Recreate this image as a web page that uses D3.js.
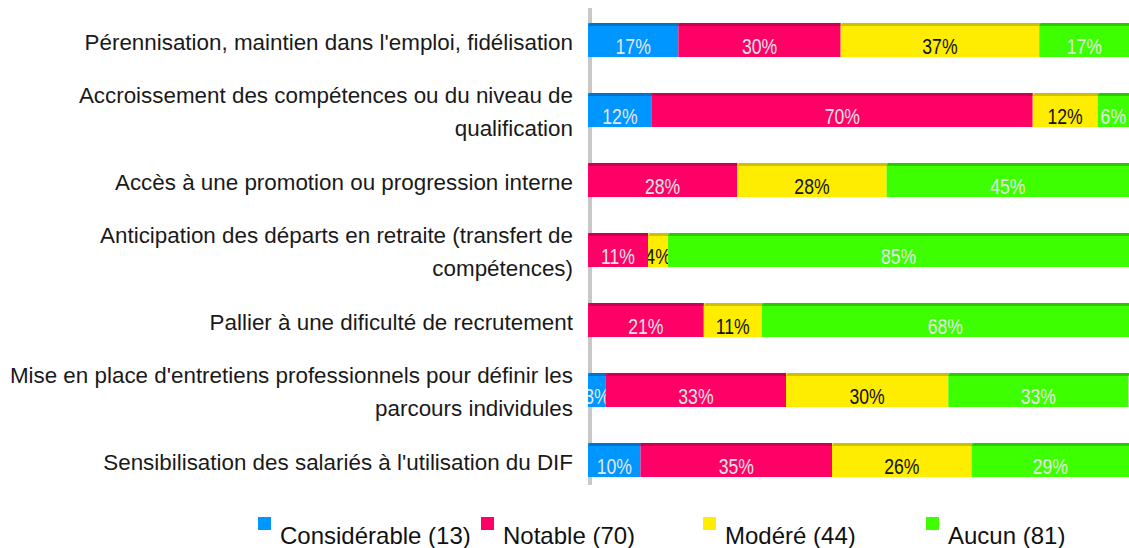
<!DOCTYPE html>
<html>
<head>
<meta charset="utf-8">
<script src="https://cdn.jsdelivr.net/npm/d3@7"></script>
<style>
  html, body { margin: 0; padding: 0; background: #fff; }
  svg { display: block; }
</style>
</head>
<body>
<div id="chart"></div>
<script>
/* ── Data ── */
const categories = [
  ["Pérennisation, maintien dans l'emploi, fidélisation"],
  ["Accroissement des compétences ou du niveau de", "qualification"],
  ["Accès à une promotion ou progression interne"],
  ["Anticipation des départs en retraite (transfert de", "compétences)"],
  ["Pallier à une dificulté de recrutement"],
  ["Mise en place d'entretiens professionnels pour définir les", "parcours individules"],
  ["Sensibilisation des salariés à l'utilisation du DIF"]
];
const considerable = [16.7, 11.8, 0, 0, 0, 3.3, 9.7];
const notable      = [30.0, 70.4, 27.6, 11.1, 21.4, 33.3, 35.4];
const modere       = [36.7, 12.0, 27.6, 3.7, 10.7, 30.0, 25.8];
const aucun        = [16.7, 5.8, 44.8, 85.2, 67.9, 33.3, 29.1];
const seriesNames  = ["Considérable (13)", "Notable (70)", "Modéré (44)", "Aucun (81)"];
const seriesKeys   = ["considerable", "notable", "modere", "aucun"];

const W = 1129, H = 548;
const fills  = ["#0096ff", "#ff0066", "#ffed00", "#3dff00"];
const tops   = ["#0074c8", "#c8004f", "#cfc000", "#2ec800"];
const textCols = ["#e6e6e6", "#e6e6e6", "#111", "#e6e6e6"];

const table = categories.map((c, i) => ({
  idx: i,
  considerable: considerable[i],
  notable: notable[i],
  modere: modere[i],
  aucun: aucun[i]
}));

const svg = d3.select("#chart").append("svg")
  .attr("width", W).attr("height", H)
  .style("font-family", "'Liberation Sans', Arial, sans-serif");

const x = d3.scaleLinear().domain([0, 100]).range([588, 1129]);
const y = d3.scaleBand().domain(d3.range(categories.length))
  .range([5, 495]).paddingInner(0.514).paddingOuter(0.257);

/* ── axis line ── */
svg.append("rect")
  .attr("x", 588).attr("y", 8).attr("width", 4).attr("height", 477)
  .attr("fill", "#c8c8c8");

/* ── category labels ── */
const lab = svg.append("g").attr("class", "labels");
categories.forEach((lines, i) => {
  const cy = y(i) + y.bandwidth() / 2;
  const t = lab.append("text")
    .attr("text-anchor", "end")
    .attr("font-size", 22.4)
    .attr("fill", "#1a1a1a");
  lines.forEach((ln, j) => {
    const base = lines.length === 1 ? cy + 10 : cy - 7 + j * 33;
    t.append("tspan").attr("x", 573).attr("y", base).text(ln);
  });
});

/* ── stacked bars ── */
const stacked = d3.stack().keys(seriesKeys)(table);
const defs = svg.append("defs");

stacked.forEach((layer, k) => {
  const g = svg.append("g").attr("class", "series-" + k);
  layer.forEach((d, i) => {
    const v = d[1] - d[0];
    if (v <= 0) return;
    const x0 = x(d[0]), x1 = x(d[1]), y0 = y(i), bh = y.bandwidth();
    g.append("rect")
      .attr("x", x0).attr("y", y0).attr("width", x1 - x0).attr("height", bh)
      .attr("fill", fills[k]);
    g.append("path")
      .attr("d", `M${x0},${y0 + 3}L${x0 + 2},${y0}L${x1 + 2},${y0}L${x1},${y0 + 3}Z`)
      .attr("fill", tops[k]);
    const cid = `clip-${k}-${i}`;
    defs.append("clipPath").attr("id", cid)
      .append("rect").attr("x", x0).attr("y", y0).attr("width", x1 - x0).attr("height", bh);
    // narrow, tall digits: squeeze a regular face horizontally
    g.append("g").attr("clip-path", `url(#${cid})`)
      .append("text")
      .attr("transform", `translate(${(x0 + x1) / 2},${y0 + bh - 3}) scale(0.8,1)`)
      .attr("text-anchor", "middle")
      .attr("font-size", 22)
      .attr("fill", textCols[k])
      .text(Math.round(v) + "%");
  });
});

/* ── legend ── */
const legX = [258, 481, 703, 926];
const leg = svg.append("g").attr("class", "legend");
seriesNames.forEach((name, k) => {
  leg.append("rect")
    .attr("x", legX[k]).attr("y", 517).attr("width", 13).attr("height", 13)
    .attr("fill", fills[k]);
  leg.append("text")
    .attr("x", legX[k] + 22).attr("y", 544)
    .attr("font-size", 24)
    .attr("fill", "#111")
    .text(name);
});
</script>
</body>
</html>
